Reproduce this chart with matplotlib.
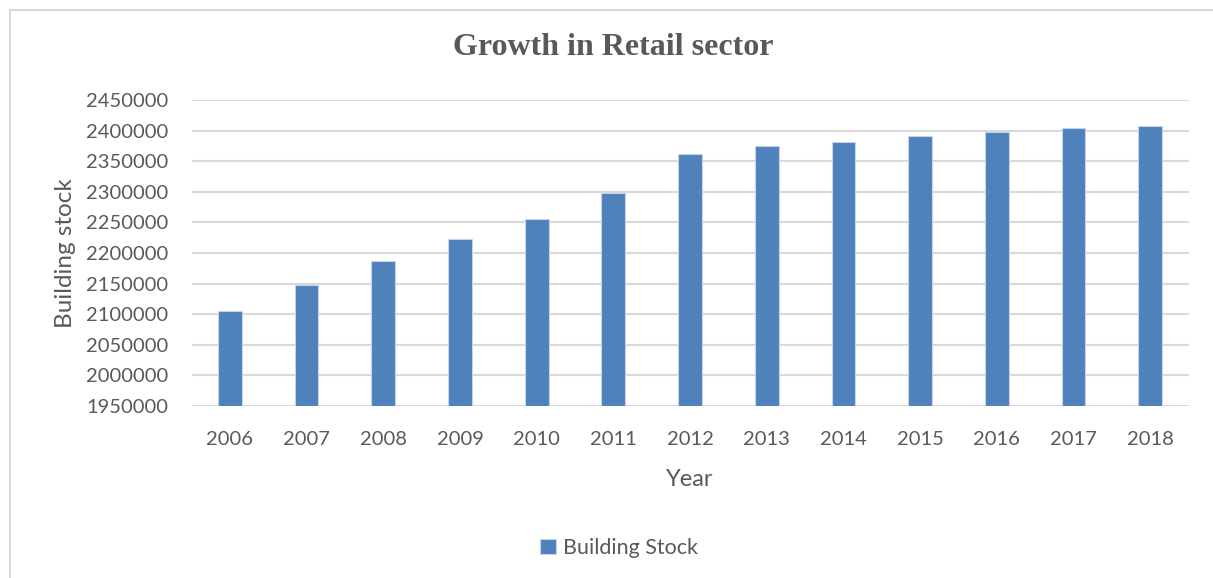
import matplotlib.pyplot as plt
from matplotlib.lines import Line2D

years = ["2006", "2007", "2008", "2009", "2010", "2011", "2012",
         "2013", "2014", "2015", "2016", "2017", "2018"]
building_stock = [2105000, 2148000, 2187500, 2222500, 2255000, 2298500, 2362500,
                  2374500, 2382000, 2391000, 2398000, 2404000, 2407000]
y_ticks = list(range(1950000, 2450001, 50000))

BAR = "#4f81bd"
TEXT = "#595959"
GRID = "#d9d9d9"

plt.rcParams["font.family"] = ["Lato", "DejaVu Sans"]

fig = plt.figure(figsize=(12.13, 5.78), dpi=100)
ax = fig.add_axes([0.1579, 0.2976, 0.822, 0.5294])

x = range(len(years))
ax.bar(x, building_stock, width=0.31, color=BAR, edgecolor="#c5d4ea",
       linewidth=0.8, label="Building Stock", zorder=3)

ax.set_ylim(1950000, 2450000)
ax.set_xlim(-0.5, len(years) - 0.5)
ax.set_yticks(y_ticks)
ax.set_yticklabels([str(v) for v in y_ticks])
ax.set_xticks(list(x))
ax.set_xticklabels(years)
ax.tick_params(axis="both", length=0, labelsize=14.5, colors=TEXT)
ax.tick_params(axis="y", pad=17)
ax.tick_params(axis="x", pad=18)
ax.grid(axis="y", color=GRID, linewidth=1.5, zorder=0)
for s in ax.spines.values():
    s.set_visible(False)

ax.set_xlabel("Year", fontsize=17, color=TEXT, labelpad=15)
ax.set_ylabel("Building stock", fontsize=17.5, color=TEXT, labelpad=7)

fig.text(0.5058, 0.917, "Growth in Retail sector", ha="center", va="center",
         fontsize=23, fontweight="bold", color=TEXT, family="Liberation Serif")

ax.legend(loc="center", bbox_to_anchor=(0.429, -0.464), frameon=False,
          fontsize=15.5, labelcolor=TEXT, handlelength=0.7, handleheight=0.7,
          handletextpad=0.35)

# chart frame (top and left edges)
fig.add_artist(Line2D([9.5 / 1213, 9.5 / 1213], [0, 1 - 9.5 / 578],
                      transform=fig.transFigure, color=GRID, linewidth=1.5))
fig.add_artist(Line2D([9.5 / 1213, 1], [1 - 9.5 / 578, 1 - 9.5 / 578],
                      transform=fig.transFigure, color=GRID, linewidth=1.5))

fig.savefig("out.png", dpi=100)
